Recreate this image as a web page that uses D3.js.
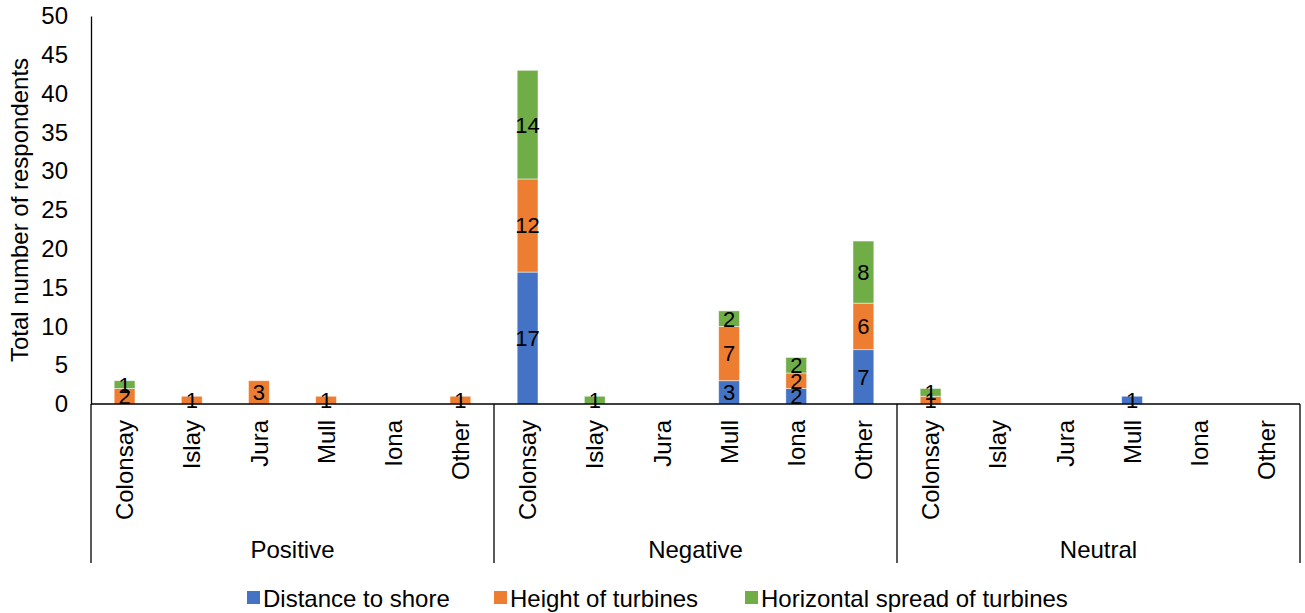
<!DOCTYPE html>
<html>
<head>
<meta charset="utf-8">
<script src="https://cdn.jsdelivr.net/npm/d3@7/dist/d3.min.js"></script>
<style>
  html, body { margin: 0; padding: 0; background: #fff; }
  text { font-family: "Liberation Sans", Arial, sans-serif; fill: #000; }
</style>
</head>
<body>
<svg id="chart" width="1305" height="613"></svg>
<script>
const groups = ["Positive", "Negative", "Neutral"];
const islands = ["Colonsay", "Islay", "Jura", "Mull", "Iona", "Other"];
const seriesNames = ["Distance to shore", "Height of turbines", "Horizontal spread of turbines"];
const seriesColors = ["#4472C4", "#ED7D31", "#70AD47"];
// values in order: Positive x6, Negative x6, Neutral x6
const distanceToShore = [0, 0, 0, 0, 0, 0,   17, 0, 0, 3, 2, 7,   0, 0, 0, 1, 0, 0];
const heightOfTurbines = [2, 1, 3, 1, 0, 1,   12, 0, 0, 7, 2, 6,   1, 0, 0, 0, 0, 0];
const horizontalSpread = [1, 0, 0, 0, 0, 0,   14, 1, 0, 2, 2, 8,   1, 0, 0, 0, 0, 0];
const yTicks = [0, 5, 10, 15, 20, 25, 30, 35, 40, 45, 50];

const seriesValues = [distanceToShore, heightOfTurbines, horizontalSpread];
const rows = [];
groups.forEach((g, gi) => islands.forEach((isl, ii) => {
  const idx = gi * islands.length + ii;
  const row = { key: g + "|" + isl, group: g, island: isl };
  seriesNames.forEach((s, si) => row[s] = seriesValues[si][idx]);
  rows.push(row);
}));

const svg = d3.select("#chart");
const plotLeft = 91, plotRight = 1300, plotTop = 16, plotBottom = 404;
const FS = 24;

const x = d3.scaleBand().domain(rows.map(r => r.key)).range([plotLeft, plotRight])
  .paddingInner(0.69).paddingOuter(0.345);
const y = d3.scaleLinear().domain([0, 50]).range([plotBottom, plotTop]);
const color = d3.scaleOrdinal().domain(seriesNames).range(seriesColors);

const stacked = d3.stack().keys(seriesNames)(rows);

// bars
const layers = svg.append("g").selectAll("g").data(stacked).join("g")
  .attr("fill", d => color(d.key));
layers.selectAll("rect").data(d => d.filter(p => p[1] - p[0] > 0)).join("rect")
  .attr("x", d => x(d.data.key))
  .attr("width", x.bandwidth())
  .attr("y", d => y(d[1]))
  .attr("height", d => y(d[0]) - y(d[1]))
  .attr("stroke", "#fff").attr("stroke-opacity", 0.6).attr("stroke-width", 0.8);

// data labels
stacked.forEach(layer => {
  svg.append("g").selectAll("text").data(layer.filter(p => p[1] - p[0] > 0)).join("text")
    .attr("x", d => x(d.data.key) + x.bandwidth() / 2)
    .attr("y", d => (y(d[0]) + y(d[1])) / 2)
    .attr("dy", "0.36em")
    .attr("text-anchor", "middle")
    .style("font-size", "22px")
    .text(d => d[1] - d[0]);
});

// y axis
const yAxis = d3.axisLeft(y).tickValues(yTicks).tickSizeInner(0).tickSizeOuter(0).tickPadding(23);
const yg = svg.append("g").attr("transform", `translate(${plotLeft},0)`).call(yAxis);
yg.select(".domain").attr("stroke", "#000").attr("stroke-width", 1.3);
yg.selectAll("text").style("font-size", FS + "px").style("font-family", '"Liberation Sans", Arial, sans-serif');

// x axis baseline
svg.append("line").attr("x1", plotLeft).attr("x2", plotRight).attr("y1", plotBottom).attr("y2", plotBottom)
  .attr("stroke", "#000").attr("stroke-width", 1.3);

// group divider lines
const step = x.step();
const groupEdges = d3.range(groups.length + 1).map(i => plotLeft + i * islands.length * step);
svg.append("g").selectAll("line").data(groupEdges).join("line")
  .attr("x1", d => d).attr("x2", d => d).attr("y1", plotBottom).attr("y2", 563)
  .attr("stroke", "#000").attr("stroke-width", 1.3);

// category labels
svg.append("g").selectAll("text").data(rows).join("text")
  .attr("transform", d => `translate(${x(d.key) + x.bandwidth() / 2},420) rotate(-90)`)
  .attr("dy", "0.36em")
  .attr("text-anchor", "end")
  .style("font-size", FS + "px")
  .text(d => d.island);

// group labels
svg.append("g").selectAll("text").data(groups).join("text")
  .attr("x", (d, i) => (groupEdges[i] + groupEdges[i + 1]) / 2)
  .attr("y", 558)
  .attr("text-anchor", "middle")
  .style("font-size", FS + "px")
  .text(d => d);

// y axis title
svg.append("text")
  .attr("transform", `translate(28,${(plotTop + plotBottom) / 2}) rotate(-90)`)
  .attr("text-anchor", "middle")
  .style("font-size", FS + "px")
  .text("Total number of respondents");

// legend
const legendX = [247, 494, 745];
const lg = svg.append("g").selectAll("g").data(seriesNames).join("g")
  .attr("transform", (d, i) => `translate(${legendX[i]},591)`);
lg.append("rect").attr("width", 13).attr("height", 13).attr("fill", d => color(d));
lg.append("text").attr("x", 16).attr("y", 7).attr("dy", "0.36em")
  .style("font-size", FS + "px").text(d => d);
</script>
</body>
</html>
